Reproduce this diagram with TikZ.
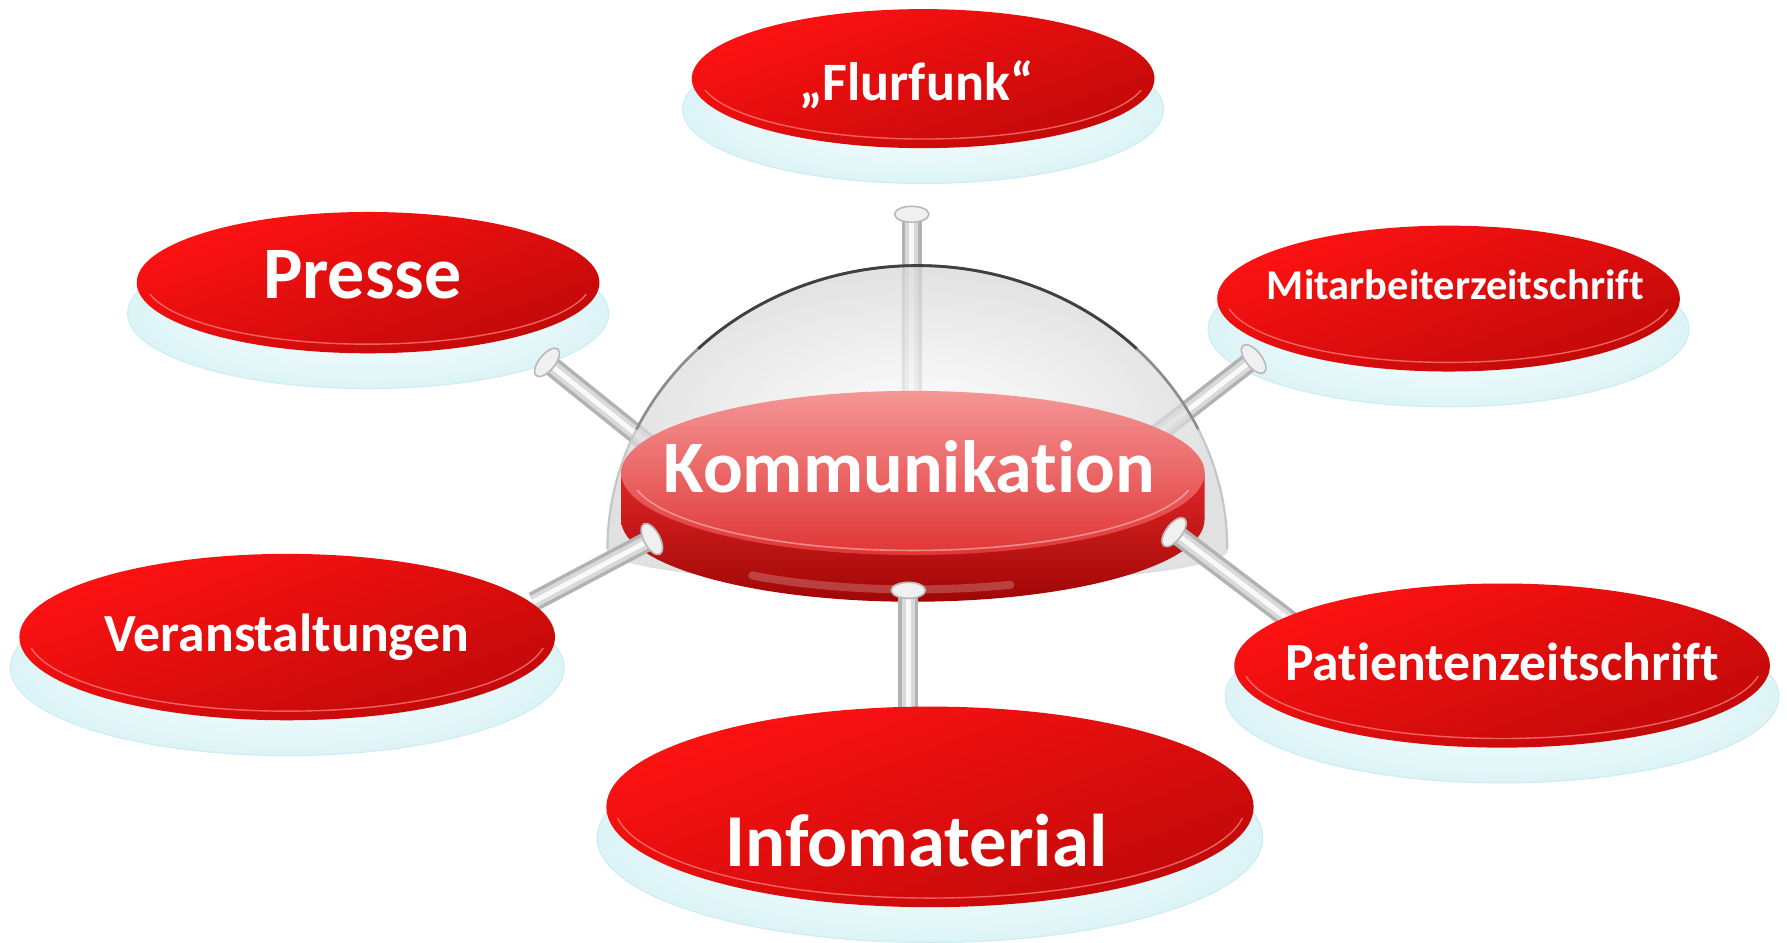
\documentclass[tikz,border=0pt]{standalone}
\usepackage{fontspec}
\setmainfont{Carlito}[Ligatures=NoCommon]
\definecolor{redA}{HTML}{FF1212}
\definecolor{redB}{HTML}{C00909}
\definecolor{baseEdge}{HTML}{DCF4F7}
\definecolor{baseLine}{HTML}{CBECF1}
\definecolor{diskTopA}{HTML}{F59696}
\definecolor{diskTopB}{HTML}{E03636}
\definecolor{diskSideA}{HTML}{E02626}
\definecolor{diskSideB}{HTML}{A00606}
\tikzset{
  basefill/.style={inner color=white, outer color=baseEdge},
  baseedge/.style={draw=baseLine, line width=0.5pt},
  redfill/.style={top color=redA, bottom color=redB, shading angle=20},
  redrim/.style={draw=redA!50!white, line width=0.7pt, opacity=0.7},
  rod/.style={line width=10pt, draw=gray!60, line cap=butt,
    postaction={draw=gray!30, line width=6.5pt},
    postaction={draw=white!95!gray, line width=2.5pt}},
  rodcap/.style={fill=gray!12, draw=gray!55, line width=0.8pt},
  lbl/.style={text=white, inner sep=0pt, anchor=base},
}
\newcommand\mysat[4]{%
  \shade[basefill] (#1,#2+27) ellipse [x radius=#3+8, y radius=#4+4];
  \draw[baseedge] (#1,#2+27) ellipse [x radius=#3+8, y radius=#4+4];
  \shade[redfill] (#1,#2) ellipse [x radius=#3, y radius=#4];
  \begin{scope}
    \clip (#1-#3,#2+10) rectangle (#1+#3,#2+#4);
    \draw[redrim] (#1,#2-2) ellipse [x radius=#3-7, y radius=#4-6];
  \end{scope}
}
\newcommand\mycap[3]{%
  \draw[rodcap, rotate around={#3:(#1)}] (#1) ellipse [x radius=15, y radius=7];
}
\begin{document}
\begin{tikzpicture}[x=0.02cm, y=-0.02cm]
\useasboundingbox (0,0) rectangle (1568,827);
\fill[white] (0,0) rectangle (1568,827);

% rear satellites
\mysat{810}{69}{203}{61}
\mysat{323}{248}{203}{62}
\mysat{1271}{262}{203}{64}

% rod end points
\coordinate (tF) at (800,188);
\coordinate (tC) at (800,345);
\coordinate (pS) at (480,318);
\coordinate (pC) at (572,392);
\coordinate (mS) at (1100,315);
\coordinate (mC) at (1010,385);
\coordinate (vS) at (468,528);
\coordinate (vC) at (572,473);
\coordinate (aS) at (1134,546);
\coordinate (aC) at (1030,467);
\coordinate (iS) at (797,625);
\coordinate (iC) at (797,518);

% rear rods
\draw[rod] (tF) -- (tC);
\draw[rod] (pS) -- (pC);
\draw[rod] (mS) -- (mC);
\mycap{tF}{0}{0}
\mycap{pS}{0}{51}
\mycap{mS}{0}{-52}

% dome
\path[shade, inner color=white, outer color=gray!32, fill opacity=0.72]
  (533,482) arc[start angle=180, end angle=0, x radius=5.44cm, y radius=4.98cm]
  arc[start angle=0, end angle=-180, x radius=5.44cm, y radius=0.6cm] -- cycle;
\draw[gray!45, line width=1.1pt]
  (533,482) arc[start angle=180, end angle=0, x radius=5.44cm, y radius=4.98cm];
\draw[black!45, line width=1.3pt]
  (805,482) ++(155:5.44cm and 4.98cm)
  arc[start angle=155, end angle=25, x radius=5.44cm, y radius=4.98cm];
\draw[black!75, line width=1.4pt]
  (805,482) ++(135:5.44cm and 4.98cm)
  arc[start angle=135, end angle=45, x radius=5.44cm, y radius=4.98cm];
\draw[gray!25, line width=0.8pt]
  (1077,482) arc[start angle=0, end angle=-180, x radius=5.44cm, y radius=0.6cm];

% central disk
\shade[top color=diskSideA, bottom color=diskSideB]
  (545,415) -- (545,456)
  arc[start angle=180, end angle=360, x radius=5.12cm, y radius=1.44cm]
  -- (1057,415) -- cycle;
\draw[white, opacity=0.22, line width=4pt, line cap=round]
  (660,505) arc[start angle=235, end angle=290, x radius=4.95cm, y radius=1.35cm];
\shade[top color=diskTopA, bottom color=diskTopB]
  (801,415) ellipse [x radius=256, y radius=72];
\begin{scope}
  \clip (540,430) rectangle (1060,500);
  \draw[diskTopA!60!white, opacity=0.6, line width=0.8pt]
    (801,415) ellipse [x radius=248, y radius=68];
\end{scope}

% front rods
\draw[rod] (vC) -- (vS);
\draw[rod] (aC) -- (aS);
\draw[rod] (iC) -- (iS);
\mycap{vC}{0}{-62}
\mycap{aC}{0}{53}
\mycap{iC}{0}{0}

% front satellites
\mysat{252}{559}{235}{73}
\mysat{1318}{584}{235}{72}
\mysat{816}{708}{284}{88}

% labels
\node[lbl, font=\bfseries\fontsize{37}{37}\selectfont] (kom) at (798,432) {Kommunikation};
\node[lbl, font=\bfseries\fontsize{37}{37}\selectfont] (pre) at (318,262) {Presse};
\node[lbl, font=\bfseries\fontsize{27}{27}\selectfont] (flu) at (804,88) {„Flurfunk“};
\node[lbl, font=\bfseries\fontsize{21.2}{21.2}\selectfont] (mit) at (1277,263) {Mitarbeiterzeitschrift};
\node[lbl, font=\bfseries\fontsize{26.8}{26.8}\selectfont] (ver) at (252,572) {Veranstaltungen};
\node[lbl, font=\bfseries\fontsize{26.8}{26.8}\selectfont] (pat) at (1318,597) {Patientenzeitschrift};
\node[lbl, font=\bfseries\fontsize{37.3}{37.3}\selectfont] (inf) at (804,760) {Infomaterial};
\end{tikzpicture}
\end{document}
